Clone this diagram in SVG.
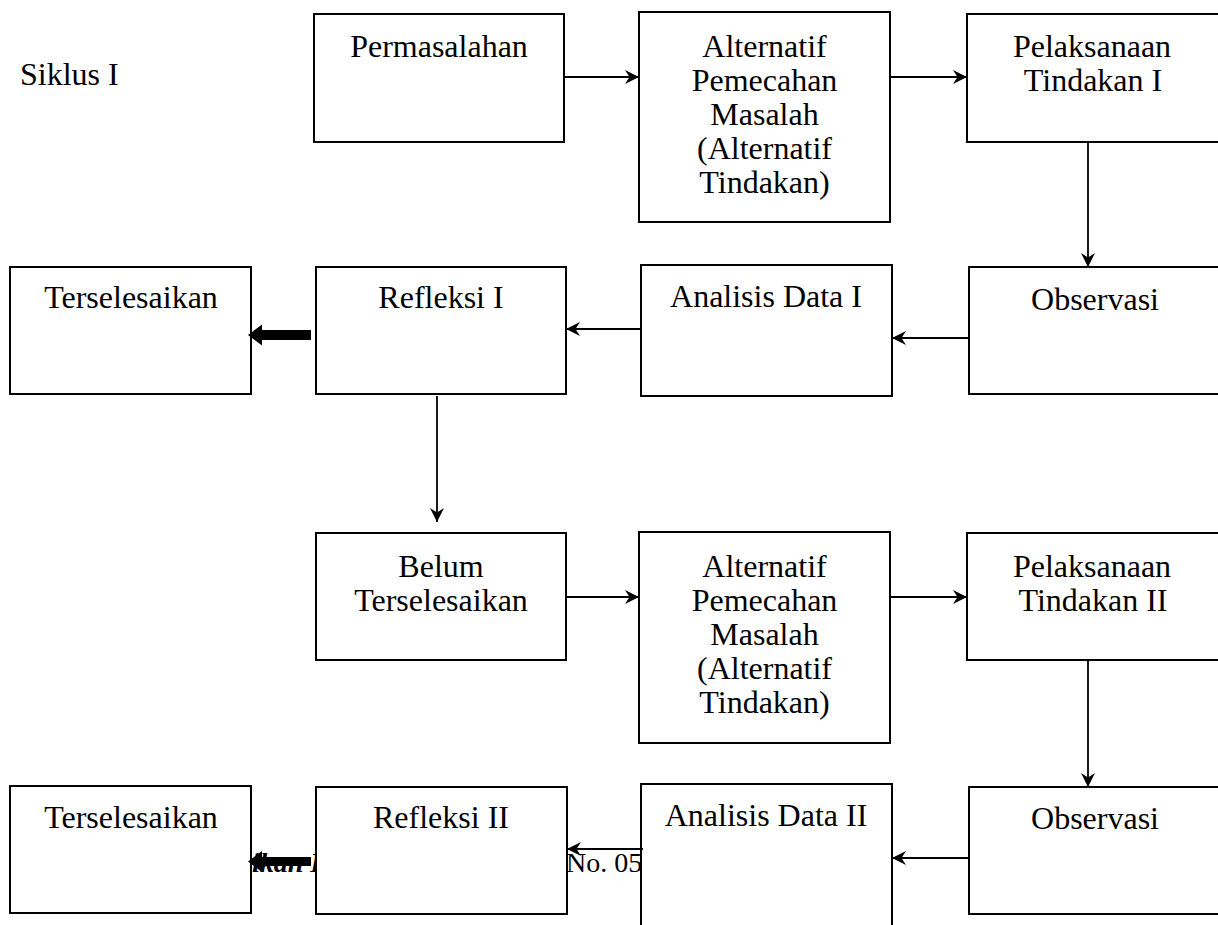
<svg xmlns="http://www.w3.org/2000/svg" width="1218" height="925" viewBox="0 0 1218 925">
<style>
.box{fill:#fff;stroke:#000;stroke-width:2}
.t{font-family:"Liberation Serif","Times New Roman",serif;font-size:32px;fill:#000;text-anchor:middle}
.ln{stroke:#000;stroke-width:1.8;fill:none;marker-end:url(#ah)}
.foot{font-family:"Liberation Serif","Times New Roman",serif;font-size:28px;fill:#000}
</style>
<defs>
<marker id="ah" viewBox="0 0 14 14" refX="14" refY="7" markerWidth="14" markerHeight="14" markerUnits="userSpaceOnUse" orient="auto">
<path d="M0,0 L14,7 L0,14 L4.5,7 Z" fill="#000"/>
</marker>
</defs>
<rect width="1218" height="925" fill="#fff"/>
<g id="footer">
<text class="foot" x="252" y="872" font-style="italic" font-weight="bold">ikan I</text>
<text class="foot" x="566" y="872">No. 05</text>
</g>
<g id="siklus"><text class="t" x="20" y="85" style="text-anchor:start">Siklus I</text></g>
<g id="permasalahan"><rect class="box" x="314" y="14" width="250" height="128"/><text class="t" x="439" y="57">Permasalahan</text></g>
<g id="alternatif1"><rect class="box" x="639" y="12" width="251" height="210"/>
<text class="t" x="764.5" y="57">Alternatif</text><text class="t" x="764.5" y="91">Pemecahan</text><text class="t" x="764.5" y="125">Masalah</text><text class="t" x="764.5" y="159">(Alternatif</text><text class="t" x="764.5" y="193">Tindakan)</text></g>
<g id="pelaksanaan1"><rect class="box" x="967" y="14" width="252" height="128"/><text class="t" x="1092" y="57">Pelaksanaan</text><text class="t" x="1093" y="91">Tindakan I</text></g>
<g id="terselesaikan1"><rect class="box" x="10" y="267" width="241" height="127"/><text class="t" x="131" y="308">Terselesaikan</text></g>
<g id="refleksi1"><rect class="box" x="316" y="267" width="250" height="127"/><text class="t" x="441" y="308">Refleksi I</text></g>
<g id="analisis1"><rect class="box" x="641" y="265" width="251" height="131"/><text class="t" x="766" y="307">Analisis Data I</text></g>
<g id="observasi1"><rect class="box" x="969" y="267" width="252" height="127"/><text class="t" x="1095" y="310">Observasi</text></g>
<g id="belum"><rect class="box" x="316" y="533" width="250" height="127"/><text class="t" x="441" y="577">Belum</text><text class="t" x="441" y="611">Terselesaikan</text></g>
<g id="alternatif2"><rect class="box" x="639" y="532" width="251" height="211"/>
<text class="t" x="764.5" y="577">Alternatif</text><text class="t" x="764.5" y="611">Pemecahan</text><text class="t" x="764.5" y="645">Masalah</text><text class="t" x="764.5" y="679">(Alternatif</text><text class="t" x="764.5" y="713">Tindakan)</text></g>
<g id="pelaksanaan2"><rect class="box" x="967" y="533" width="252" height="127"/><text class="t" x="1092" y="577">Pelaksanaan</text><text class="t" x="1093" y="611">Tindakan II</text></g>
<g id="terselesaikan2"><rect class="box" x="10" y="786" width="241" height="127"/><text class="t" x="131" y="828">Terselesaikan</text></g>
<g id="refleksi2"><rect class="box" x="316" y="787" width="251" height="127"/><text class="t" x="441" y="828">Refleksi II</text></g>
<g id="analisis2"><rect class="box" x="641" y="784" width="251" height="150"/><text class="t" x="766" y="826">Analisis Data II</text></g>
<g id="observasi2"><rect class="box" x="969" y="787" width="252" height="127"/><text class="t" x="1095" y="829">Observasi</text></g>
<g id="connectors">
<line class="ln" x1="565" y1="77" x2="639" y2="77"/>
<line class="ln" x1="891" y1="77" x2="967" y2="77"/>
<line class="ln" x1="1088" y1="143" x2="1088" y2="267"/>
<line class="ln" x1="968" y1="338" x2="892" y2="338"/>
<line class="ln" x1="642" y1="329" x2="566" y2="329"/>
<polygon points="311,330 262,330 262,324.5 248,335 262,345.5 262,340 311,340" fill="#000"/>
<line class="ln" x1="437" y1="396" x2="437" y2="522"/>
<line class="ln" x1="567" y1="597" x2="639" y2="597"/>
<line class="ln" x1="891" y1="597" x2="967" y2="597"/>
<line class="ln" x1="1088" y1="661" x2="1088" y2="787"/>
<line class="ln" x1="968" y1="858" x2="892" y2="858"/>
<line class="ln" x1="643" y1="849" x2="567" y2="849"/>
<polygon points="311,857 262,857 262,851 248,861.5 262,872 262,866 311,866" fill="#000"/>
</g>
</svg>
